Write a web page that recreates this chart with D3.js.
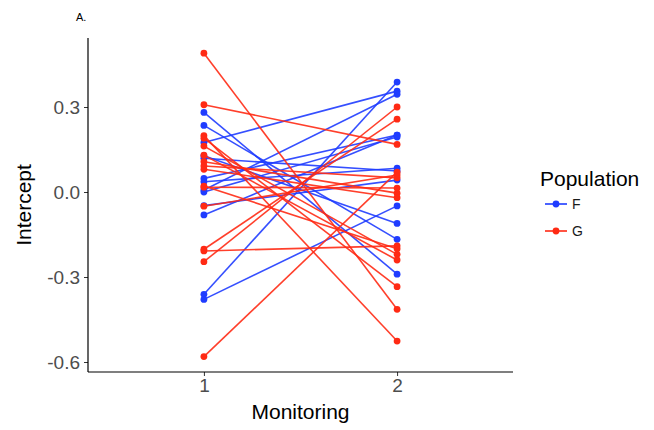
<!DOCTYPE html>
<html><head><meta charset="utf-8">
<script src="https://cdn.jsdelivr.net/npm/d3@7"></script>
<style>body{margin:0;background:#fff}svg{font-family:"Liberation Sans",Arial,sans-serif}</style>
</head><body>
<svg id="c" width="654" height="430"></svg>
<script>
const categories = [1, 2];
const yTicks = [0.3, 0.0, -0.3, -0.6];
const populations = ["F", "G"];
const colors = {F: "#1f3cff", G: "#ff2a14"};
// paired intercepts: [monitoring 1, monitoring 2]
const popF1 = [-0.361, -0.379, 0.281, 0.235, 0.175, 0.128, 0.119, 0.048, 0.036, 0.007, 0.000, -0.048, -0.081];
const popF2 = [ 0.388, -0.049, -0.290, -0.167, 0.356, -0.111, 0.074, 0.201, 0.084, 0.345, 0.194, 0.042, 0.201];
const popG1 = [0.490, 0.308, 0.199, 0.190, 0.162, 0.130, 0.107, 0.092, 0.080, 0.021, 0.017, -0.050, -0.202, -0.208, -0.246, -0.581];
const popG2 = [-0.414, 0.168, -0.526, -0.334, -0.220, -0.240, -0.004, 0.050, -0.020, -0.200, 0.014, 0.060, 0.257, -0.190, 0.300, 0.070];

const svg = d3.select("#c");
const x = d3.scaleLinear().domain([0.4, 2.6]).range([88, 513]);
const y = d3.scaleLinear().domain([0, 0.3]).range([192, 107]);
const yTop = 38, yBot = 372;

const series = [
  {pop: "F", a: popF1, b: popF2},
  {pop: "G", a: popG1, b: popG2}
];
series.forEach(s => {
  const g = svg.append("g");
  s.a.forEach((v, i) => {
    g.append("line").attr("x1", x(1)).attr("y1", y(v)).attr("x2", x(2)).attr("y2", y(s.b[i]))
      .attr("stroke", colors[s.pop]).attr("stroke-width", 1.6).attr("stroke-opacity", 0.9);
  });
  s.a.forEach((v, i) => {
    g.append("circle").attr("cx", x(1)).attr("cy", y(v)).attr("r", 3.4).attr("fill", colors[s.pop]);
    g.append("circle").attr("cx", x(2)).attr("cy", y(s.b[i])).attr("r", 3.4).attr("fill", colors[s.pop]);
  });
});

const fmt = d => d3.format(".1f")(d).replace("\u2212", "-");
// axes
const yAxis = d3.axisLeft(y).tickValues(yTicks).tickFormat(fmt).tickSize(4).tickPadding(4);
const ya = svg.append("g").attr("transform", "translate(88,0)").call(yAxis);
ya.select(".domain").remove();
svg.append("line").attr("x1", 88).attr("x2", 88).attr("y1", yTop).attr("y2", yBot).attr("stroke", "#000").attr("stroke-width", 1.2);
const xAxis = d3.axisBottom(x).tickValues(categories).tickFormat(d3.format("d")).tickSize(4).tickPadding(3);
const xa = svg.append("g").attr("transform", `translate(0,${yBot})`).call(xAxis);
xa.select(".domain").remove();
svg.append("line").attr("x1", 88).attr("x2", 513).attr("y1", yBot).attr("y2", yBot).attr("stroke", "#000").attr("stroke-width", 1.2);
svg.selectAll(".tick text").attr("font-size", 19).attr("fill", "#4d4d4d").attr("font-family", "Liberation Sans, Arial, sans-serif");
svg.selectAll(".tick line").attr("stroke", "#333");

svg.append("text").attr("x", x(1.5)).attr("y", 419).attr("text-anchor", "middle").attr("font-size", 21).text("Monitoring");
svg.append("text").attr("transform", "translate(31,205) rotate(-90)").attr("text-anchor", "middle").attr("font-size", 21).text("Intercept");
svg.append("text").attr("x", 76).attr("y", 21).attr("font-size", 11).text("A.");

// legend
svg.append("text").attr("x", 540).attr("y", 186).attr("font-size", 21).text("Population");
populations.forEach((p, i) => {
  const ly = 204 + i * 27;
  svg.append("line").attr("x1", 545).attr("x2", 567).attr("y1", ly).attr("y2", ly).attr("stroke", colors[p]).attr("stroke-width", 1.6);
  svg.append("circle").attr("cx", 556).attr("cy", ly).attr("r", 3.4).attr("fill", colors[p]);
  svg.append("text").attr("x", 572).attr("y", ly + 5).attr("font-size", 14).attr("fill", "#1a1a1a").text(p);
});
</script>
</body></html>
